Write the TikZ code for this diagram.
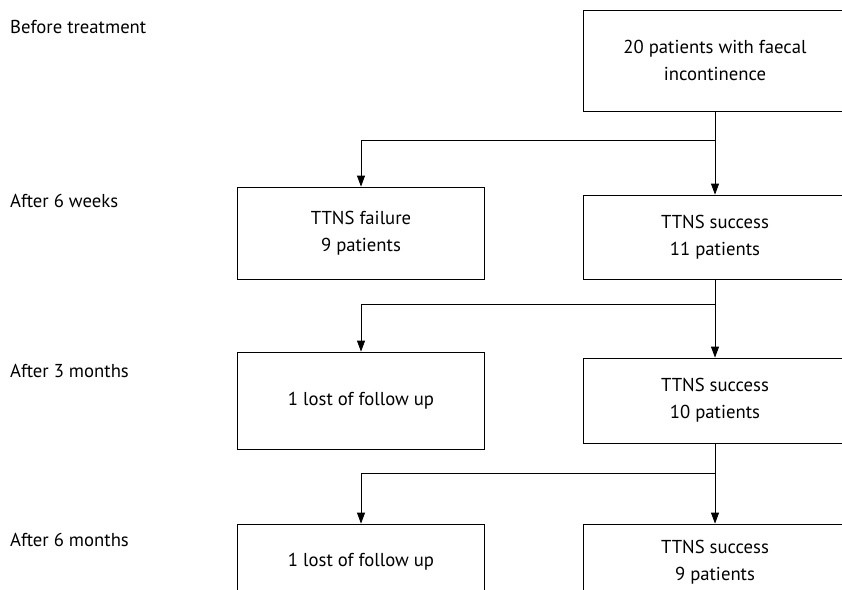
\documentclass[tikz,border=0pt]{standalone}
\usepackage{fontspec}
\setmainfont{PT Sans}
\usetikzlibrary{arrows.meta}
\begin{document}
\begin{tikzpicture}[x=1pt,y=-1pt,font=\fontsize{18.7}{27}\selectfont]
  \tikzstyle{box}=[draw,rectangle,line width=0.8pt,inner sep=0,align=center,minimum width=264pt]
  \tikzstyle{left box}=[box,minimum width=247.5pt]
  \tikzstyle{stage}=[anchor=base west,inner sep=0]
  \tikzstyle{arrow}=[line width=0.8pt,-{Triangle[length=11pt,width=8pt]}]
  \path[use as bounding box,clip] (0,0) rectangle (842,589);
  % time points
  \node(t0)[stage] at (10,33) {Before treatment};
  \node(t1)[stage] at (10,207) {After 6 weeks};
  \node(t2)[stage] at (10,377) {After 3 months};
  \node(t3)[stage] at (10,546) {After 6 months};
  % boxes
  \node(start)[box,minimum height=101pt] at (715,60.5) {20 patients with faecal\\incontinence};
  \node(fail)[left box,minimum height=92pt] at (361,233) {TTNS failure\\9 patients};
  \node(succ1)[box,minimum height=84pt] at (715,237) {TTNS success\\11 patients};
  \node(lost1)[left box,minimum height=97pt] at (361,400.5) {1 lost of follow up};
  \node(succ2)[box,minimum height=85pt] at (715,400.5) {TTNS success\\10 patients};
  \node(lost2)[left box,minimum height=76pt] at (361,562) {1 lost of follow up};
  \node(succ3)[box,minimum height=76pt] at (715,562) {TTNS success\\9 patients};
  % connectors
  \draw[arrow] (start.south) -- (succ1.north);
  \draw[line width=0.8pt] (start.south) -- ++(0,29) coordinate(split1);
  \draw[arrow] (split1) -| (fail.north);
  \draw[arrow] (succ1.south) -- (succ2.north);
  \draw[line width=0.8pt] (succ1.south) -- ++(0,25) coordinate(split2);
  \draw[arrow] (split2) -| (lost1.north);
  \draw[arrow] (succ2.south) -- (succ3.north);
  \draw[line width=0.8pt] (succ2.south) -- ++(0,30) coordinate(split3);
  \draw[arrow] (split3) -| (lost2.north);
\end{tikzpicture}
\end{document}
